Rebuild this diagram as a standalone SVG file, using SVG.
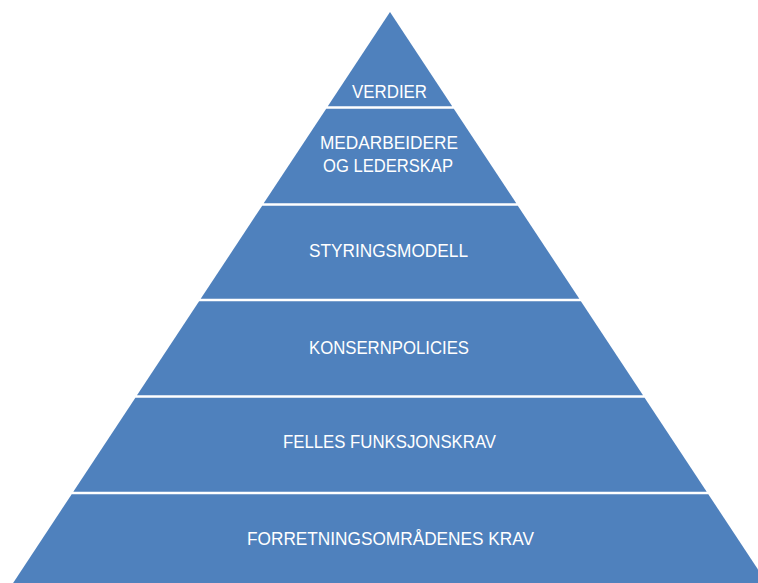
<svg xmlns="http://www.w3.org/2000/svg" width="758" height="583" viewBox="0 0 758 583">
<style>
.band{fill:#4F81BD}
.t{font-family:"Liberation Sans","Open Sans",sans-serif;font-size:18px;fill:#FFFFFF;text-anchor:middle}
</style>
<rect width="758" height="583" fill="#FFFFFF"/>
<g id="verdier">
<polygon class="band" points="390,12 452.2,106.3 327.8,106.3"/>
<text class="t" x="389.5" y="98" textLength="75" lengthAdjust="spacingAndGlyphs">VERDIER</text>
</g>
<g id="medarbeidere">
<polygon class="band" points="326.2,108.7 453.8,108.7 516.3,203.3 263.7,203.3"/>
<text class="t" x="389" y="149" textLength="138" lengthAdjust="spacingAndGlyphs">MEDARBEIDERE</text>
<text class="t" x="388" y="172" textLength="130" lengthAdjust="spacingAndGlyphs">OG LEDERSKAP</text>
</g>
<g id="styringsmodell">
<polygon class="band" points="262.2,205.7 517.8,205.7 579.3,298.8 200.7,298.8"/>
<text class="t" x="388.5" y="257" textLength="159" lengthAdjust="spacingAndGlyphs">STYRINGSMODELL</text>
</g>
<g id="konsernpolicies">
<polygon class="band" points="199.1,301.2 580.9,301.2 643,395.3 137,395.3"/>
<text class="t" x="389" y="354" textLength="160" lengthAdjust="spacingAndGlyphs">KONSERNPOLICIES</text>
</g>
<g id="felles">
<polygon class="band" points="135.4,397.7 644.6,397.7 706.7,491.8 73.3,491.8"/>
<text class="t" x="389.5" y="448" textLength="213" lengthAdjust="spacingAndGlyphs">FELLES FUNKSJONSKRAV</text>
</g>
<g id="forretning">
<polygon class="band" points="71.7,494.2 708.3,494.2 771.5,590 8.5,590"/>
<text class="t" x="390.5" y="545" textLength="287" lengthAdjust="spacingAndGlyphs">FORRETNINGSOMRÅDENES KRAV</text>
</g>
<g id="connectors"></g>
</svg>
